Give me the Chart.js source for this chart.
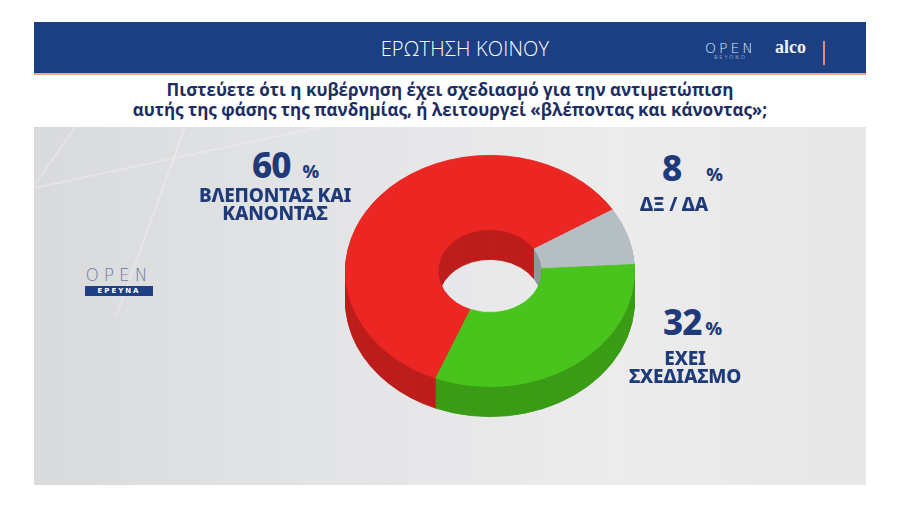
<!DOCTYPE html>
<html lang="el">
<head>
<meta charset="UTF-8">
<title>Ερώτηση κοινού</title>
<script src="https://cdn.jsdelivr.net/npm/chart.js"></script>
<style>
  html, body { margin: 0; padding: 0; background: #fff; }
  body { width: 900px; height: 513px; position: relative; overflow: hidden; font-family: "Open Sans", "Noto Sans", sans-serif; }
  .panel { position: absolute; left: 34px; top: 22px; width: 832px; height: 463px; overflow: hidden; }
  .header { position: absolute; left: 0; top: 0; width: 100%; height: 51px; background: #1c3f84; border-bottom: 2px solid #f2a88a; }
  .header h1 { margin: 0; position: absolute; left: 0; right: 0; top: 13px; text-align: center; color: #fff;
    font: 300 20px "Open Sans", sans-serif; letter-spacing: 0.2px; padding-left: 30px; }
  .logo-open { position: absolute; left: 671px; top: 18px; color: #dfe6f3; font: 300 14px "DejaVu Sans", sans-serif; letter-spacing: 3px; }
  .logo-open small { display: block; font-size: 5px; letter-spacing: 2px; text-align: center; margin-top: -2px; }
  .logo-alco { position: absolute; left: 741px; top: 15px; color: #eef1f8; font: bold 18px "Liberation Serif", serif; }
  .logo-bar { position: absolute; left: 789px; top: 19px; width: 2px; height: 24px; background: #e88a78; }
  .question { position: absolute; left: 0; right: 0; top: 55px; height: 50px; background: #fff; text-align: center;
    color: #1b2d62; font: bold 17px "Open Sans", sans-serif; line-height: 20px; padding-top: 3px; letter-spacing: 0; }
  .stage { position: absolute; left: 0; top: 105px; width: 832px; height: 358px;
    background: linear-gradient(90deg, #d9dadc 0%, #e3e4e6 35%, #ececed 70%, #e7e7e8 100%); }
  .streak { position: absolute; background: rgba(255,255,255,0.25); transform-origin: 0 0; }
  .open-er { position: absolute; left: 51px; top: 138px; width: 68px; }
  .open-er .word { color: #6a7aa0; font: 300 17px "DejaVu Sans", sans-serif; letter-spacing: 5px; text-align: center; }
  .open-er .box { background: #1f3f84; color: #fff; font: bold 7px "DejaVu Sans", sans-serif; letter-spacing: 2px;
    text-align: center; height: 10px; line-height: 10px; margin-top: 1px; }
  canvas#pie { position: absolute; left: 345px; top: 126px; }
  .num, .name { position: absolute; color: #1f3a78; font-family: "Noto Sans", sans-serif; font-weight: 800; }
  .num { font-size: 35px; line-height: 34px; letter-spacing: -1px; white-space: nowrap; }
  .num span { font-size: 18px; letter-spacing: 0; }
  .name { font-size: 19px; line-height: 18px; letter-spacing: -0.2px; text-align: center; width: 200px; }
</style>
</head>
<body>
<div class="panel">
  <div class="header">
    <h1>ΕΡΩΤΗΣΗ ΚΟΙΝΟΥ</h1>
    <div class="logo-open">OPEN<small>BEYOND</small></div>
    <div class="logo-alco">alco</div>
    <div class="logo-bar"></div>
  </div>
  <div class="question">Πιστεύετε ότι η κυβέρνηση έχει σχεδιασμό για την αντιμετώπιση<br>αυτής της φάσης της πανδημίας, ή λειτουργεί «βλέποντας και κάνοντας»;</div>
  <div class="stage">
    <div class="streak" style="left:40px;top:0;width:2px;height:260px;transform:rotate(35deg)"></div>
    <div class="streak" style="left:0;top:60px;width:320px;height:2px;transform:rotate(-12deg)"></div>
    <div class="streak" style="left:150px;top:0;width:2px;height:200px;transform:rotate(20deg)"></div>
    <div class="open-er"><div class="word">OPEN</div><div class="box">ΕΡΕΥΝΑ</div></div>
  </div>
</div>
<canvas id="pie" width="290" height="340"></canvas>
<div class="num" id="num0" style="left:252px;top:148px"></div>
<div class="name" id="name0" style="left:175px;top:186px"></div>
<div class="num" id="num1" style="left:662px;top:151px"></div>
<div class="name" id="name1" style="left:574px;top:195px"></div>
<div class="num" id="num2" style="left:663px;top:305px"></div>
<div class="name" id="name2" style="left:585px;top:349px"></div>

<script>
  // answers, in the order they run round the ring
  const categories = ["ΒΛΕΠΟΝΤΑΣ ΚΑΙ<br>ΚΑΝΟΝΤΑΣ", "ΔΞ / ΔΑ", "ΕΧΕΙ<br>ΣΧΕΔΙΑΣΜΟ"];
  const values = [60, 8, 32];
  const colors = ["#ec2622", "#b5bec3", "#49c41c"];
  const pctGap = [12, 25, 4];

  const TILT = 0.8;    // vertical squash of the ring
  const DEPTH = 30;    // thickness of the ring, px

  values.forEach((v, i) => {
    document.getElementById("num" + i).innerHTML =
      v + '<span style="margin-left:' + pctGap[i] + 'px">%</span>';
    document.getElementById("name" + i).innerHTML = categories[i];
  });

  // squash the doughnut and draw its side under it
  const tiltPlugin = {
    id: "tilt",
    beforeDatasetsDraw(chart) {
      const ctx = chart.ctx;
      const meta = chart.getDatasetMeta(0);
      const cx = meta.data[0].x, cy = meta.data[0].y;
      ctx.save();
      ctx.translate(cx, cy);
      ctx.scale(1, TILT);
      ctx.translate(-cx, -cy);
      ctx.save();
      ctx.filter = "brightness(0.8)";
      for (let d = DEPTH; d > 0; d--) {
        ctx.save();
        ctx.translate(0, d / TILT);
        meta.data.forEach(arc => arc.draw(ctx));
        ctx.restore();
      }
      ctx.restore();
    },
    afterDatasetsDraw(chart) {
      chart.ctx.restore();
    }
  };

  new Chart(document.getElementById("pie"), {
    type: "doughnut",
    data: {
      labels: categories,
      datasets: [{
        data: values,
        backgroundColor: colors,
        borderWidth: 1,
        borderColor: colors,
        clip: false
      }]
    },
    options: {
      responsive: false,
      animation: false,
      events: [],
      rotation: 202,
      cutout: "36%",
      layout: { padding: { bottom: 50 } },
      plugins: { legend: { display: false }, tooltip: { enabled: false } }
    },
    plugins: [tiltPlugin]
  });
</script>
</body>
</html>
